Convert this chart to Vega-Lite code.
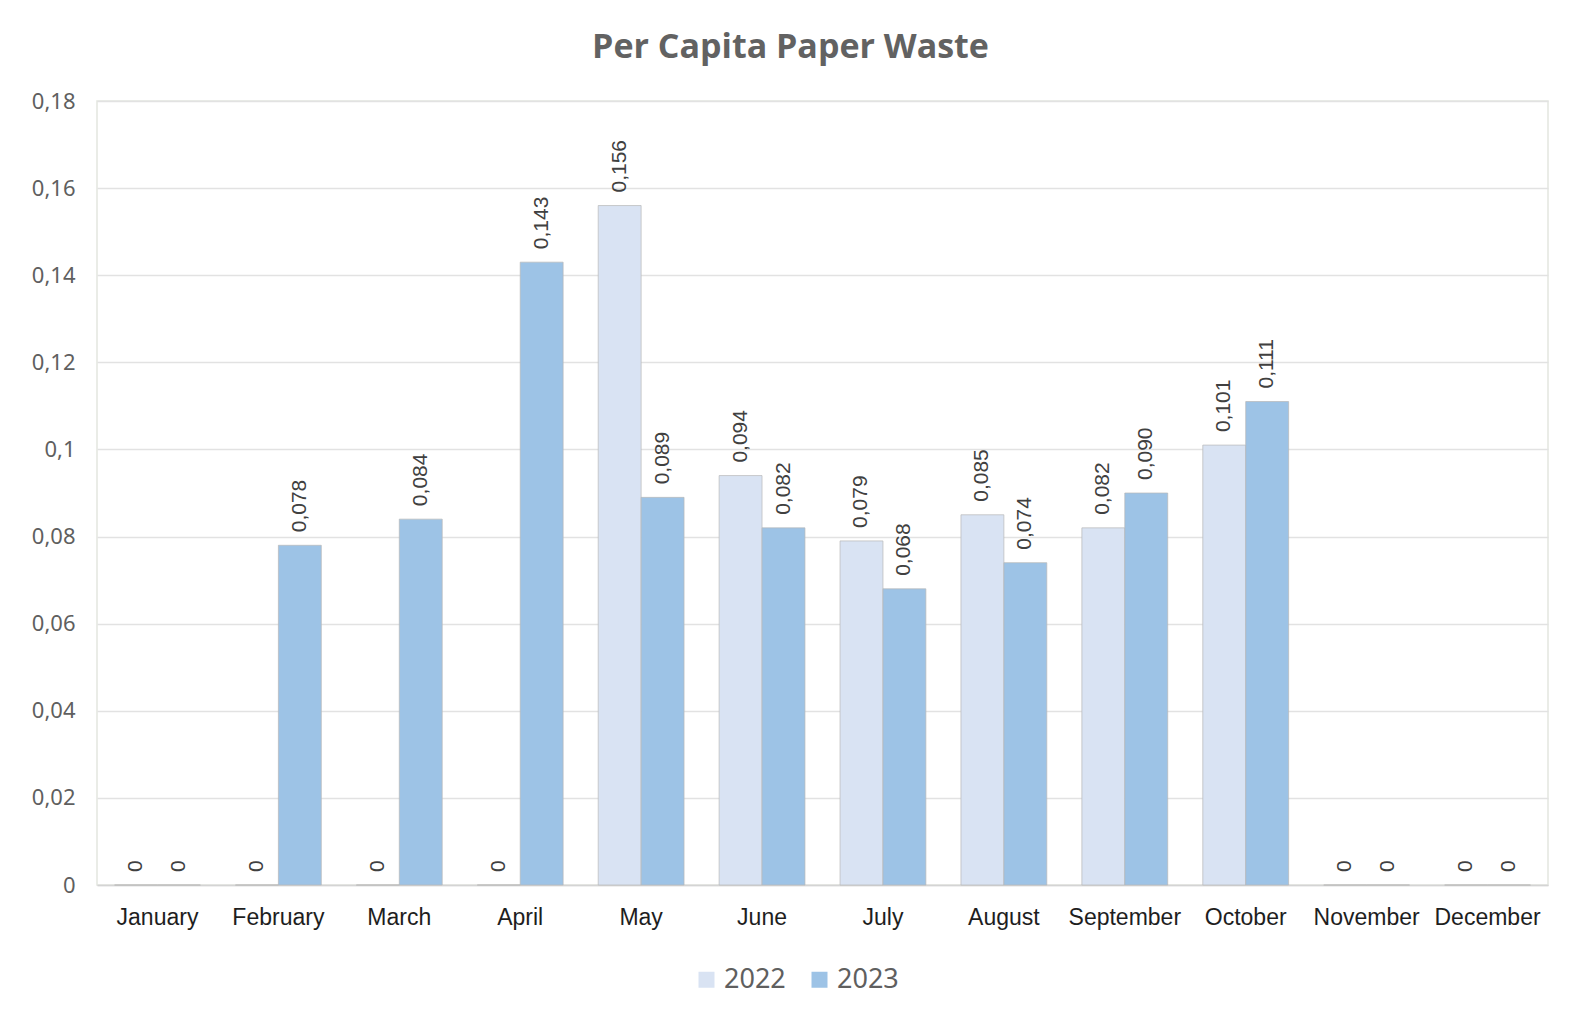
{
  "$schema": "https://vega.github.io/schema/vega-lite/v6.json",
  "autosize": "none",
  "width": 1451,
  "height": 784,
  "padding": {"left": 97, "top": 101, "right": 25, "bottom": 131},
  "background": "white",
  "config": {
    "locale": {"number": {"decimal": ",", "thousands": ".", "grouping": [3], "currency": ["", " €"]}},
    "view": {"stroke": "#e3e6df", "strokeWidth": 1.5},
    "font": "Liberation Sans"
  },
  "title": {
    "text": "Per Capita Paper Waste",
    "font": "Open Sans",
    "fontSize": 34,
    "fontWeight": "bold",
    "color": "#626262",
    "anchor": "middle",
    "baseline": "alphabetic",
    "offset": 30,
    "dy": 32,
    "dx": -32
  },
  "data": {
    "values": [
      {"month": "January", "year": "2022", "value": 0},
      {"month": "January", "year": "2023", "value": 0},
      {"month": "February", "year": "2022", "value": 0},
      {"month": "February", "year": "2023", "value": 0.078},
      {"month": "March", "year": "2022", "value": 0},
      {"month": "March", "year": "2023", "value": 0.084},
      {"month": "April", "year": "2022", "value": 0},
      {"month": "April", "year": "2023", "value": 0.143},
      {"month": "May", "year": "2022", "value": 0.156},
      {"month": "May", "year": "2023", "value": 0.089},
      {"month": "June", "year": "2022", "value": 0.094},
      {"month": "June", "year": "2023", "value": 0.082},
      {"month": "July", "year": "2022", "value": 0.079},
      {"month": "July", "year": "2023", "value": 0.068},
      {"month": "August", "year": "2022", "value": 0.085},
      {"month": "August", "year": "2023", "value": 0.074},
      {"month": "September", "year": "2022", "value": 0.082},
      {"month": "September", "year": "2023", "value": 0.090},
      {"month": "October", "year": "2022", "value": 0.101},
      {"month": "October", "year": "2023", "value": 0.111},
      {"month": "November", "year": "2022", "value": 0},
      {"month": "November", "year": "2023", "value": 0},
      {"month": "December", "year": "2022", "value": 0},
      {"month": "December", "year": "2023", "value": 0}
    ]
  },
  "encoding": {
    "x": {
      "field": "month",
      "type": "nominal",
      "sort": null,
      "title": null,
      "scale": {"paddingInner": 0.29, "paddingOuter": 0.145},
      "axis": {
        "labelAngle": 0,
        "labelFont": "Liberation Sans",
        "labelFontSize": 23,
        "labelColor": "#1e1e1e",
        "labelPadding": 21,
        "ticks": false,
        "domainColor": "#d4d4d4",
        "domainWidth": 1.5
      }
    },
    "xOffset": {"field": "year", "type": "nominal", "scale": {"paddingInner": 0, "paddingOuter": 0}},
    "y": {
      "field": "value",
      "type": "quantitative",
      "title": null,
      "scale": {"domain": [0, 0.18], "nice": false},
      "axis": {
        "values": [0, 0.02, 0.04, 0.06, 0.08, 0.1, 0.12, 0.14, 0.16, 0.18],
        "format": ".2~f",
        "labelFont": "Noto Sans",
        "labelFontSize": 22,
        "labelColor": "#5f5f5f",
        "labelPadding": 22,
        "ticks": false,
        "domain": false,
        "gridColor": "#e2e2e2",
        "gridWidth": 1.5
      }
    }
  },
  "layer": [
    {
      "mark": {"type": "bar", "stroke": "#b8b8b8", "strokeWidth": 1, "strokeOpacity": 0.7},
      "encoding": {
        "color": {
          "field": "year",
          "type": "nominal",
          "scale": {"domain": ["2022", "2023"], "range": ["#d9e3f3", "#9dc3e6"]},
          "legend": {
            "title": null,
            "orient": "none",
            "legendX": 596,
            "legendY": 865,
            "direction": "horizontal",
            "symbolType": "square",
            "symbolSize": 256,
            "symbolStrokeWidth": 0,
            "labelFont": "Noto Sans",
            "labelFontSize": 27,
            "labelColor": "#5f5f5f",
            "columnPadding": 20
          }
        }
      }
    },
    {
      "mark": {"type": "text", "angle": 270, "align": "left", "baseline": "middle", "dx": 13, "fontSize": 21, "color": "#404040", "font": "Liberation Sans"},
      "encoding": {
        "text": {"condition": {"test": "datum.value === 0", "value": "0"}, "field": "value", "type": "quantitative", "format": ".3f"}
      }
    }
  ]
}
